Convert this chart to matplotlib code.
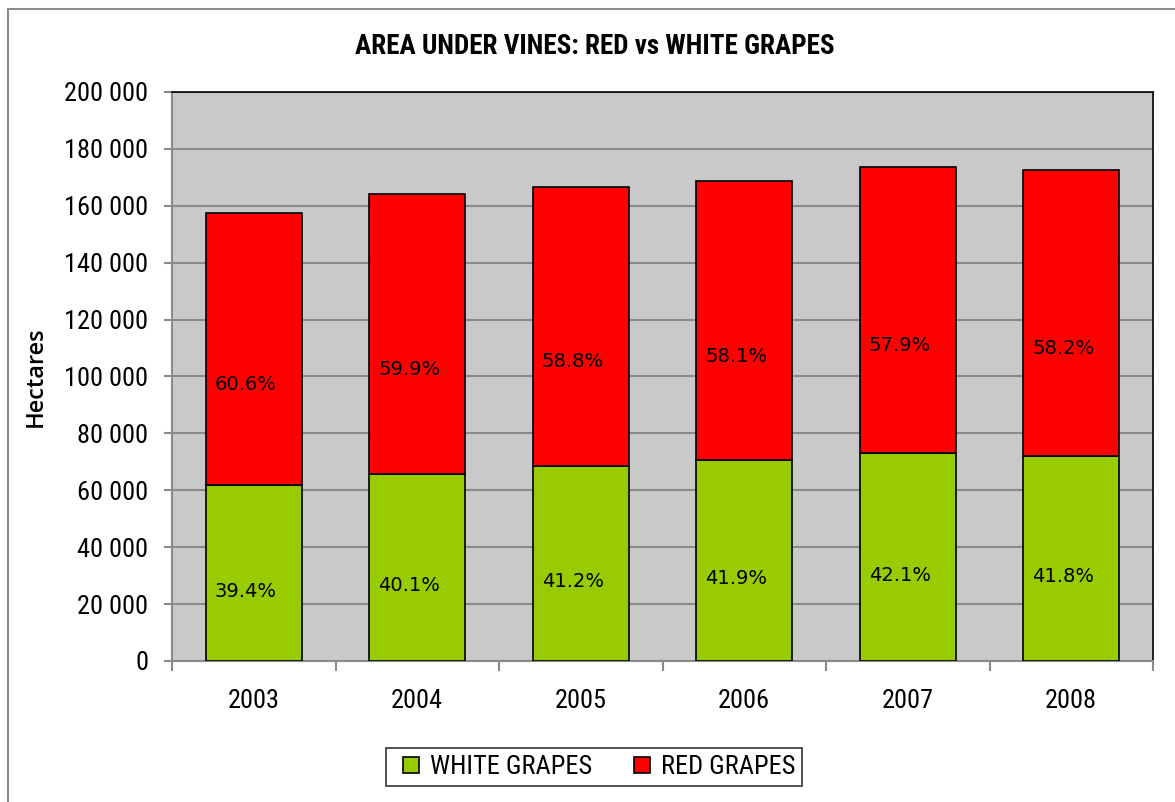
import matplotlib
matplotlib.use("Agg")
import matplotlib.pyplot as plt
from matplotlib.patches import Rectangle
from matplotlib.lines import Line2D
import numpy as np

years = ["2003", "2004", "2005", "2006", "2007", "2008"]
white = [61900, 65800, 68600, 70700, 73100, 72100]
red = [95600, 98300, 98000, 98000, 100500, 100500]
white_pct = ["39.4%", "40.1%", "41.2%", "41.9%", "42.1%", "41.8%"]
red_pct = ["60.6%", "59.9%", "58.8%", "58.1%", "57.9%", "58.2%"]

narrow = ["Roboto Condensed", "DejaVu Sans"]
green = "#99CC00"
redc = "#FF0000"

fig = plt.figure(figsize=(11.75, 8.02), dpi=100)
# outer chart border
fig.patches.append(Rectangle((8 / 1175, -0.1), 1.2, 1 - 9 / 802 + 0.1,
                             transform=fig.transFigure, fill=False,
                             edgecolor="#8c8c8c", linewidth=1.5))

ax = fig.add_axes([172 / 1175, 1 - 661 / 802, (1153 - 172) / 1175, (661 - 92) / 802])
ax.set_facecolor("#C9C9C9")

x = np.arange(len(years))
w = 0.59
ax.bar(x, white, w, color=green, edgecolor="black", linewidth=1.2, label="WHITE GRAPES", zorder=3)
ax.bar(x, red, w, bottom=white, color=redc, edgecolor="black", linewidth=1.2, label="RED GRAPES", zorder=3)

for i in range(len(years)):
    ax.text(x[i] - 0.05, white[i] / 2 - 6500, white_pct[i], ha="center", va="center",
            fontsize=14, family="DejaVu Sans", zorder=4)
    ax.text(x[i] - 0.05, white[i] + red[i] / 2 - 12500, red_pct[i], ha="center", va="center",
            fontsize=14, family="DejaVu Sans", zorder=4)

ax.set_ylim(0, 200000)
ax.set_xlim(-0.5, len(years) - 0.5)
ax.set_yticks(np.arange(0, 200001, 20000))
ax.set_yticklabels(["0" if v == 0 else f"{v // 1000} 000" for v in range(0, 200001, 20000)],
                   family=narrow, fontsize=19)
ax.yaxis.grid(True, color="#8a8a8a", linewidth=1.5, zorder=0)
ax.set_axisbelow(True)

ax.set_xticks(x)
ax.set_xticklabels(years, family=narrow, fontsize=19)
ax.set_xticks(np.arange(-0.5, len(years), 1), minor=True)
ax.tick_params(axis="x", which="major", length=0, pad=20)
ax.tick_params(axis="x", which="minor", length=7, color="#8a8a8a", width=1.5)
ax.tick_params(axis="y", length=6, color="#8a8a8a", width=1.5, pad=11)

for s in ["left", "bottom"]:
    ax.spines[s].set_color("#8a8a8a")
    ax.spines[s].set_linewidth(1.5)
for s in ["top", "right"]:
    ax.spines[s].set_color("black")
    ax.spines[s].set_linewidth(1.2)

ax.set_ylabel("Hectares", family="Open Sans", fontweight=600, fontsize=17, labelpad=12)
fig.text(595 / 1175, 1 - 46 / 802, "AREA UNDER VINES: RED vs WHITE GRAPES", ha="center", va="center",
         family=narrow, fontweight="bold", fontsize=19.5)

handles = [Line2D([], [], marker="s", linestyle="none", markersize=11, markerfacecolor=green,
                  markeredgecolor="black", markeredgewidth=1.2),
           Line2D([], [], marker="s", linestyle="none", markersize=11, markerfacecolor=redc,
                  markeredgecolor="black", markeredgewidth=1.2)]
leg = fig.legend(handles, ["WHITE GRAPES", "RED GRAPES"], loc="center",
                 bbox_to_anchor=(594 / 1175, 1 - 767 / 802), ncol=2, frameon=True,
                 fancybox=False, edgecolor="black", prop={"family": narrow, "size": 19},
                 handletextpad=0.0, columnspacing=1.2, borderpad=0.25, handlelength=1.4,
                 borderaxespad=0)
leg.get_frame().set_linewidth(1.2)

fig.savefig("out.png", dpi=100)
